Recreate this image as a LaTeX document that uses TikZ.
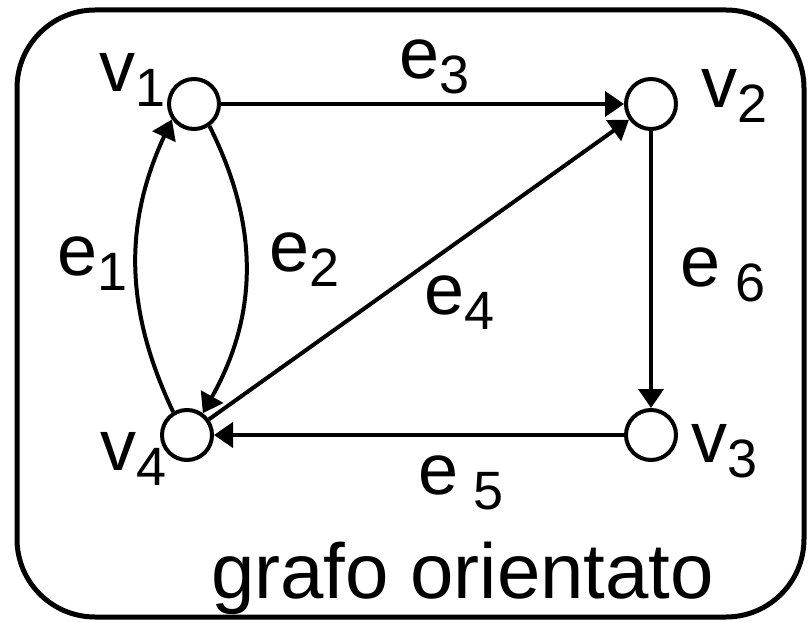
\documentclass[tikz,border=0pt]{standalone}
\usepackage{fontspec}
\setmainfont{Liberation Sans}
\usetikzlibrary{arrows.meta}
\newcommand{\pedice}[1]{\raisebox{-15pt}{\fontsize{54}{60}\selectfont #1}}
\tikzset{
	vertice/.style={
			circle,
			draw=black,
			line width=4pt,
			fill=white,
			minimum size=50pt,
			inner sep=0pt
		},
	etichetta/.style={
			anchor=base west,
			inner sep=0pt,
			outer sep=0pt,
			font=\fontsize{72}{80}\selectfont
		},
	arco/.style={
			line width=4pt,
			-{Triangle[length=19pt,width=25pt]}
		}
}
\begin{document}
\begin{tikzpicture}[x=1pt, y=-1pt]
\useasboundingbox (0,0) rectangle (812,623);
\draw[line width=5pt, rounded corners=78pt] (17,10) rectangle (804,617);

\node[vertice] (v1) at (194,104) {};
\node[vertice] (v2) at (651,104) {};
\node[vertice] (v3) at (651,435) {};
\node[vertice] (v4) at (187,435) {};

\node[etichetta] (lv1) at (99,92) {v\pedice{1}};
\node[etichetta] (lv2) at (701,108) {v\pedice{2}};
\node[etichetta] (lv3) at (691,462) {v\pedice{3}};
\node[etichetta] (lv4) at (100,470) {v\pedice{4}};

\node[etichetta] (le1) at (57,276) {e\pedice{1}};
\node[etichetta] (le2) at (269,271) {e\pedice{2}};
\node[etichetta] (le3) at (399,79) {e\pedice{3}};
\node[etichetta] (le4) at (424,314) {e\pedice{4}};
\node[etichetta] (le5) at (418,494) {e\pedice{\ 5}};
\node[etichetta] (le6) at (680,287) {e\pedice{\ 6}};

\node[etichetta, font=\fontsize{78}{86}\selectfont] (titolo) at (211,598) {grafo orientato};

\draw[arco] (v4.121) to[bend left=25] (v1.215);
\draw[arco] (v1.-55) to[bend left=28] (v4.54);
\draw[arco] (v1) -- (v2);
\draw[arco] (v4) -- (v2);
\draw[arco] (v3) -- (v4);
\draw[arco] (v2) -- (v3);

\end{tikzpicture}
\end{document}
